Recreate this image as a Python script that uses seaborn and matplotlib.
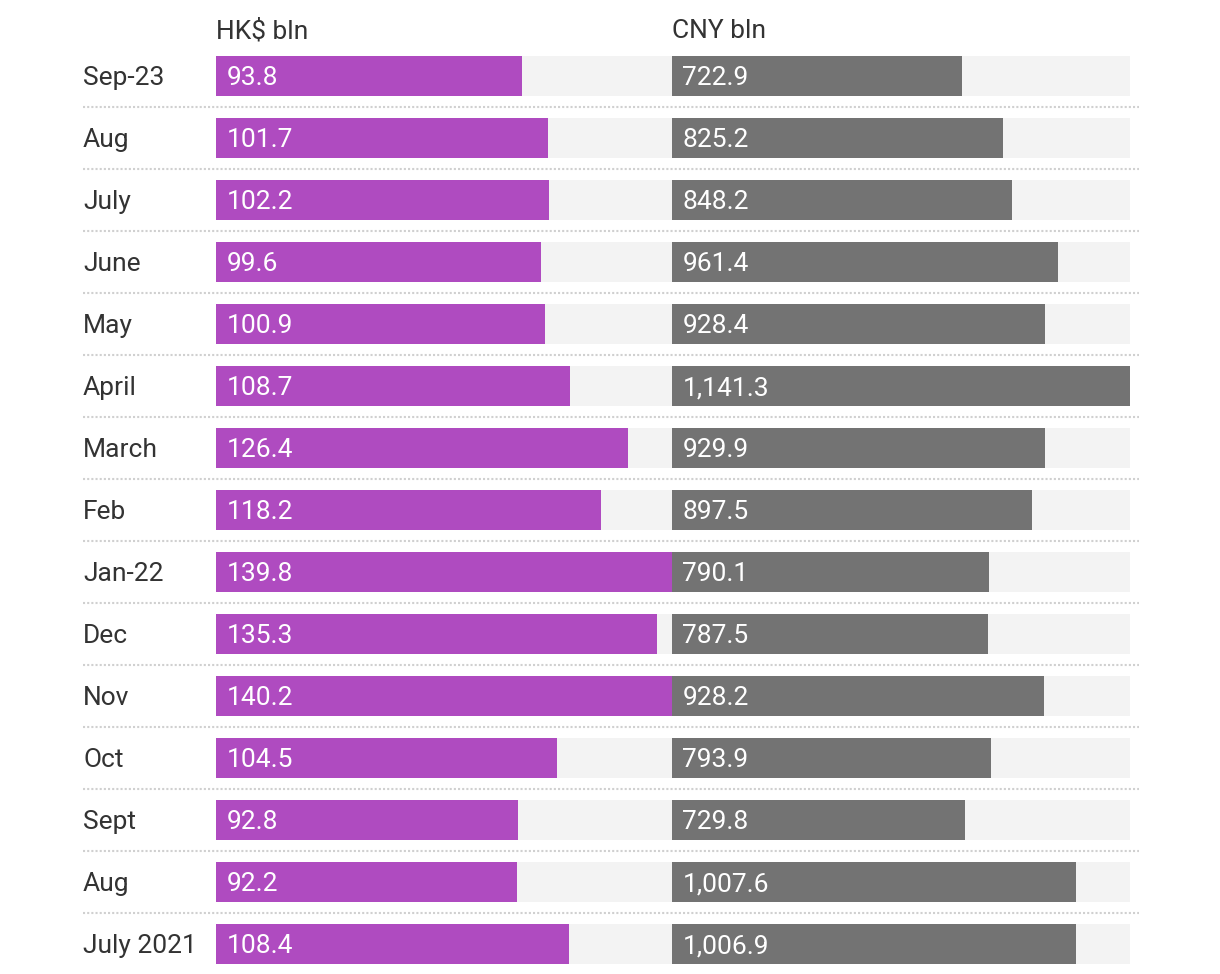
import matplotlib
matplotlib.use("Agg")
import matplotlib.pyplot as plt
import seaborn as sns
import pandas as pd

months = ["Sep-23", "Aug", "July", "June", "May", "April", "March", "Feb",
          "Jan-22", "Dec", "Nov", "Oct", "Sept", "Aug", "July 2021"]
hkd = [93.8, 101.7, 102.2, 99.6, 100.9, 108.7, 126.4, 118.2,
       139.8, 135.3, 140.2, 104.5, 92.8, 92.2, 108.4]
cny = [722.9, 825.2, 848.2, 961.4, 928.4, 1141.3, 929.9, 897.5,
       790.1, 787.5, 928.2, 793.9, 729.8, 1007.6, 1006.9]
headers = ["HK$ bln", "CNY bln"]

sns.set_theme(style="white")
plt.rcParams['font.family'] = ['Roboto', 'DejaVu Sans']

W, H = 1220, 974
fig = plt.figure(figsize=(W / 100, H / 100), dpi=100)

pos = list(range(len(months)))
df = pd.DataFrame({"pos": pos, "hkd": hkd, "cny": cny,
                   "hkd_bg": [max(hkd)] * len(pos), "cny_bg": [max(cny)] * len(pos)})

def px(x0, y0, w, h):
    return [x0 / W, 1 - (y0 + h) / H, w / W, h / H]

ax1 = fig.add_axes(px(216, 45, 457, 930))
ax2 = fig.add_axes(px(672, 45, 458, 930))

bw = 40 / 62
fs = 19
dy = -1.5  # points, shift text slightly down
for ax, col, color, maxv in [(ax1, "hkd", "#AF4BC0", max(hkd)), (ax2, "cny", "#737373", max(cny))]:
    sns.barplot(data=df, x=col + "_bg", y="pos", orient="h", color="#F3F3F3",
                width=bw, ax=ax, saturation=1, order=pos, linewidth=0)
    sns.barplot(data=df, x=col, y="pos", orient="h", color=color,
                width=bw, ax=ax, saturation=1, order=pos, linewidth=0)
    ax.set_xlim(0, maxv)
    ax.set_ylim(len(pos) - 0.5, -0.5)
    ax.set_xlabel("")
    ax.set_ylabel("")
    ax.set_xticks([])
    ax.set_yticks([])
    ax.patch.set_alpha(0)
    for s in ax.spines.values():
        s.set_visible(False)
    for i, v in enumerate(df[col]):
        ax.annotate(f"{v:,.1f}", xy=(0, i), xytext=(7.5, dy), textcoords="offset points",
                    ha="left", va="center", color="white", fontsize=fs)

# category labels
for i, m in enumerate(months):
    ax1.annotate(m, xy=(0, i), xytext=(-(216 - 83) * 0.72, dy), textcoords="offset points",
                 ha="left", va="center", color="#333333", fontsize=fs, annotation_clip=False)

# dotted separators
for i in range(len(months) - 1):
    ax1.axhline(i + 0.5, xmin=(83 - 216) / 457, xmax=(1139 - 216) / 457,
                color="#D0D0D0", linestyle=(0, (1, 1)), linewidth=1.5, clip_on=False)

fig.text(216 / W, 1 - 31 / H, headers[0], ha="left", va="center", color="#333333", fontsize=fs)
fig.text(672 / W, 1 - 31 / H, headers[1], ha="left", va="center", color="#333333", fontsize=fs)

fig.savefig("out.png", dpi=100, facecolor="white")
